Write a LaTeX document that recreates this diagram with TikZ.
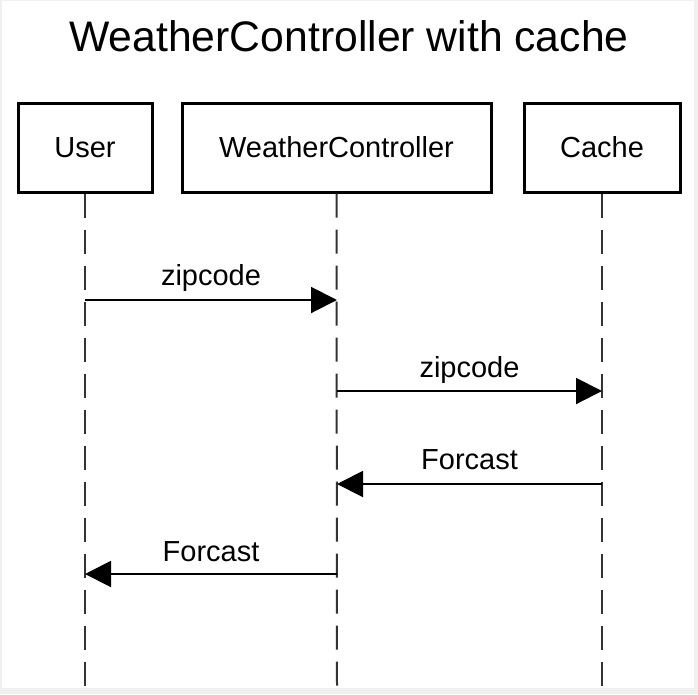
\documentclass[tikz,border=0pt]{standalone}
\usepackage{fontspec}
\setmainfont{Liberation Sans}
\usetikzlibrary{arrows.meta}
\begin{document}
\begin{tikzpicture}[x=1pt,y=-1pt,
  actor/.style={draw=black,line width=3pt,fill=white,rectangle,minimum height=89pt,inner sep=0pt,font=\fontsize{29}{34}\selectfont},
  lifeline/.style={draw=black!80,line width=2pt,dash pattern=on 24pt off 12pt},
  msg/.style={draw=black,line width=2pt,-{Triangle[length=26pt,width=26pt]}},
  lbl/.style={anchor=base,inner sep=0pt,font=\fontsize{29}{34}\selectfont}]
\useasboundingbox (0,0) rectangle (698,694);
\fill[black!6] (0,0) rectangle (698,694);
\fill[white] (2,1) rectangle (694,688);
\node[anchor=base,inner sep=0pt,font=\fontsize{42.7}{50}\selectfont] (title) at (349,51) {WeatherController with cache};
\node[actor,minimum width=134pt] (user) at (85,147.5) {User};
\node[actor,minimum width=309pt] (wc) at (336.5,147.5) {WeatherController};
\node[actor,minimum width=156pt] (cache) at (602,147.5) {Cache};
\coordinate (uend) at (85,688);
\coordinate (wend) at (337,688);
\coordinate (cend) at (602,688);
\draw[lifeline] (user.south) -- (uend);
\draw[lifeline] (wc.south) -- (wend);
\draw[lifeline] (cache.south) -- (cend);
\coordinate (u1) at (85,300);
\coordinate (w1) at (337,300);
\coordinate (w2) at (337,391);
\coordinate (c2) at (602,391);
\coordinate (c3) at (602,484);
\coordinate (w3) at (337,484);
\coordinate (w4) at (337,574);
\coordinate (u4) at (85,574);
\draw[msg] (u1) -- (w1);
\draw[msg] (w2) -- (c2);
\draw[msg] (c3) -- (w3);
\draw[msg] (w4) -- (u4);
\node[lbl] (l1) at (211,285) {zipcode};
\node[lbl] (l2) at (469.5,377) {zipcode};
\node[lbl] (l3) at (469.5,469) {Forcast};
\node[lbl] (l4) at (211,561) {Forcast};
\end{tikzpicture}
\end{document}
